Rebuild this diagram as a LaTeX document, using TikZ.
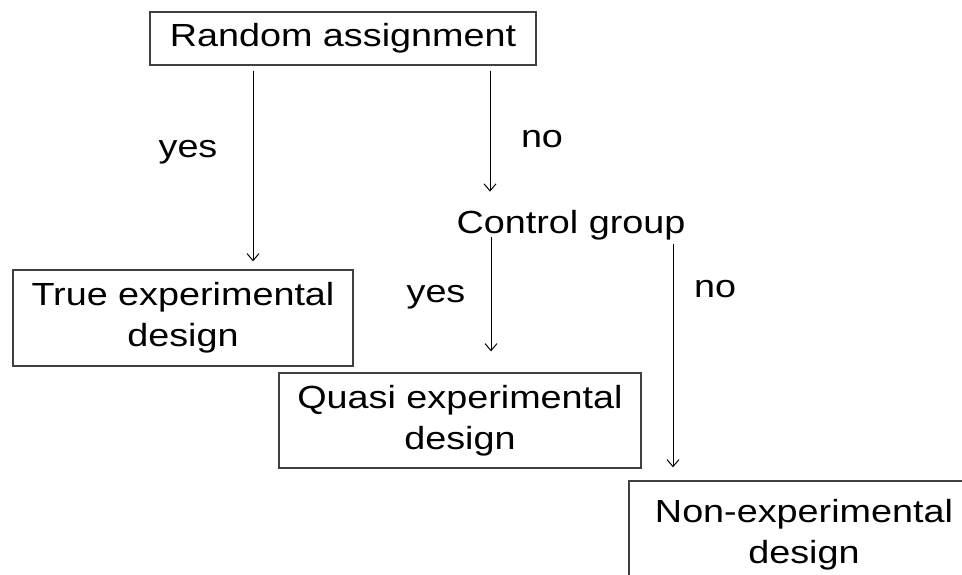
\documentclass[tikz,border=0pt]{standalone}
\usepackage{fontspec}
\setmainfont{Liberation Sans}[FakeStretch=1.18]
\usetikzlibrary{arrows.meta}
\begin{document}
\begin{tikzpicture}[x=1pt,y=-1pt,
  box/.style={draw=black!75, line width=1.3pt, align=center, inner sep=0pt,
    font=\fontsize{32}{41}\selectfont},
  lbl/.style={font=\fontsize{32}{41}\selectfont, inner sep=0pt},
  arr/.style={-{Straight Barb[length=7pt,width=12pt]}, line width=1pt}]
\useasboundingbox (0,0) rectangle (962,574);
\clip (0,0) rectangle (962,574);
\node[box, minimum width=386pt, minimum height=53pt] (ra) at (343,38.5) {Random assignment};
\node[box, minimum width=340pt, minimum height=96pt] (te) at (183,318) {True experimental\\design};
\node[lbl, anchor=base] (cg) at (571,233) {Control group};
\node[box, minimum width=362pt, minimum height=95pt] (qe) at (460,420.5) {Quasi experimental\\design};
\node[box, minimum width=350pt, minimum height=108pt] (ne) at (804,535) {Non-experimental\\design};
\node[lbl, anchor=base] (y1) at (188,157) {yes};
\node[lbl, anchor=base] (n1) at (542,147) {no};
\node[lbl, anchor=base] (y2) at (436,302) {yes};
\node[lbl, anchor=base] (n2) at (715,297) {no};
\draw[arr] ([shift={(-90,5)}]ra.south) -- ([shift={(70,-8)}]te.north);
\draw[arr] ([shift={(147,5)}]ra.south) -- ([shift={(-81,-18)}]cg.north);
\draw[arr] ([shift={(-80,-3)}]cg.south) -- ([shift={(31,-21)}]qe.north);
\draw[arr] ([shift={(102,4)}]cg.south) -- ([shift={(-131,-13)}]ne.north);
\end{tikzpicture}
\end{document}
